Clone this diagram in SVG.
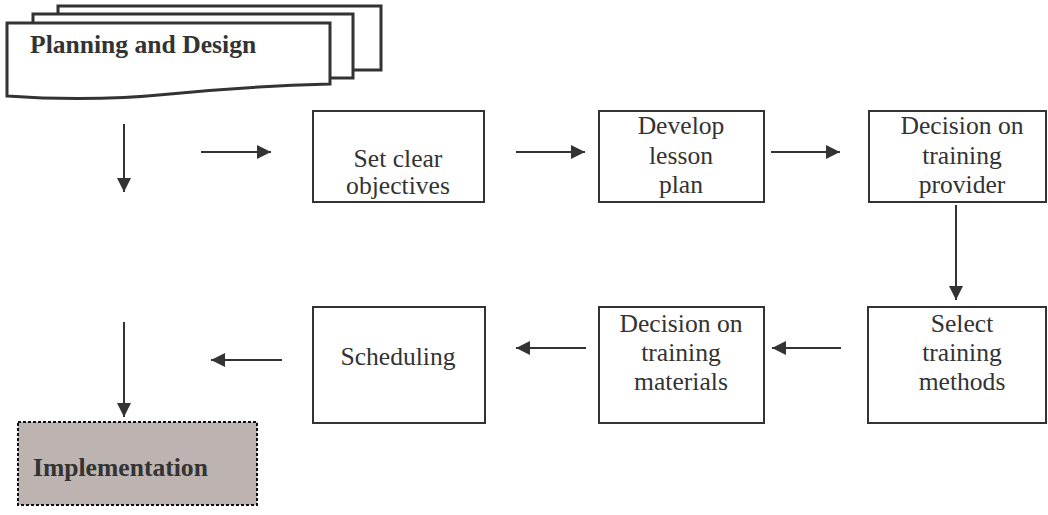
<svg xmlns="http://www.w3.org/2000/svg" width="1048" height="515" viewBox="0 0 1048 515">
<defs>
<style>
.box{fill:#fff;stroke:#333;stroke-width:2}
.sheet{fill:#fff;stroke:#333;stroke-width:3;stroke-linejoin:miter}
.t{font-family:'Liberation Serif','DejaVu Serif',serif;font-size:25.6px;fill:#333;text-anchor:middle}
.b{font-family:'Liberation Serif','DejaVu Serif',serif;font-size:25.6px;font-weight:bold;fill:#333}
.c{stroke:#333;stroke-width:2;fill:none;marker-end:url(#ah)}
</style>
<marker id="ah" markerUnits="userSpaceOnUse" markerWidth="16" markerHeight="14" refX="14" refY="7" orient="auto">
<path d="M0,0 L14,7 L0,14 Z" fill="#333"/>
</marker>
</defs>
<rect width="1048" height="515" fill="#fff"/>
<g id="planning">
<rect class="sheet" x="58" y="6" width="323" height="64"/>
<rect class="sheet" x="33" y="14" width="320" height="64"/>
<path class="sheet" d="M7,23 L330,23 L330,84 Q250,86 170,94 Q90,102 7,96 Z"/>
<text class="b" x="30" y="53">Planning and Design</text>
</g>
<g id="objectives">
<rect class="box" x="313" y="111" width="171" height="91"/>
<text class="t" x="398" y="167">Set clear</text>
<text class="t" x="398" y="194">objectives</text>
</g>
<g id="lesson">
<rect class="box" x="599" y="111" width="165" height="91"/>
<text class="t" x="681" y="134">Develop</text>
<text class="t" x="681" y="164">lesson</text>
<text class="t" x="681" y="193">plan</text>
</g>
<g id="provider">
<rect class="box" x="869" y="111" width="177" height="91"/>
<text class="t" x="962" y="134">Decision on</text>
<text class="t" x="962" y="164">training</text>
<text class="t" x="962" y="193">provider</text>
</g>
<g id="methods">
<rect class="box" x="868" y="307" width="178" height="116"/>
<text class="t" x="962" y="332">Select</text>
<text class="t" x="962" y="361">training</text>
<text class="t" x="962" y="390">methods</text>
</g>
<g id="materials">
<rect class="box" x="599" y="307" width="165" height="116"/>
<text class="t" x="681" y="332">Decision on</text>
<text class="t" x="681" y="361">training</text>
<text class="t" x="681" y="390">materials</text>
</g>
<g id="scheduling">
<rect class="box" x="313" y="307" width="172" height="116"/>
<text class="t" x="398" y="365">Scheduling</text>
</g>
<g id="implementation">
<rect x="18" y="422" width="239" height="83" fill="#bdb3b0" stroke="#111" stroke-width="2" stroke-dasharray="3,2"/>
<text class="b" x="33" y="476">Implementation</text>
</g>
<g id="connectors">
<line class="c" x1="124" y1="124" x2="124" y2="192"/>
<line class="c" x1="201" y1="152" x2="271" y2="152"/>
<line class="c" x1="516" y1="152" x2="585" y2="152"/>
<line class="c" x1="771" y1="152" x2="840" y2="152"/>
<line class="c" x1="956" y1="205" x2="956" y2="300"/>
<line class="c" x1="841" y1="348" x2="772" y2="348"/>
<line class="c" x1="586" y1="348" x2="516" y2="348"/>
<line class="c" x1="282" y1="360" x2="211" y2="360"/>
<line class="c" x1="124" y1="322" x2="124" y2="417"/>
</g>
</svg>
